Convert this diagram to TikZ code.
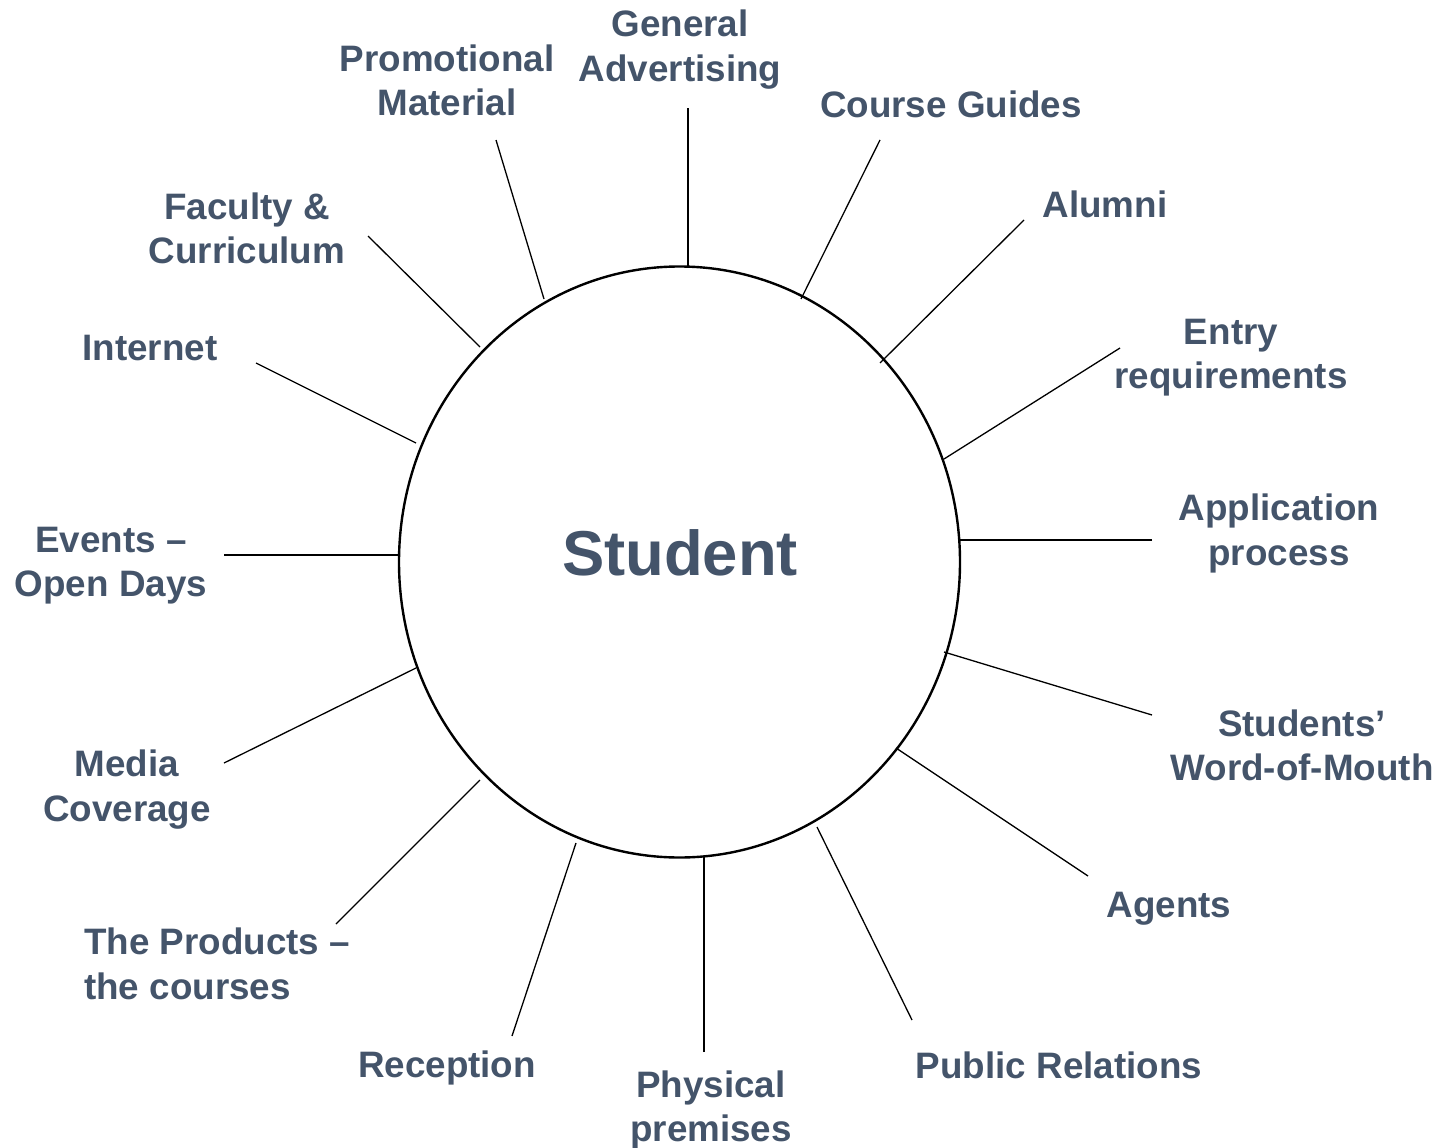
\documentclass[tikz,border=0pt]{standalone}
\usepackage{fontspec}
\setmainfont{Liberation Sans}
\usetikzlibrary{shapes.geometric}
\definecolor{txt}{HTML}{44546A}
\begin{document}
\begin{tikzpicture}[x=1pt,y=-1pt,
  lbl/.style={text=txt,font=\bfseries\fontsize{36.8}{44.5}\selectfont,align=center,inner sep=0pt},
  spoke/.style={draw=black,line width=1.3pt},
  hub/.style={draw=black,line width=2.4pt,ellipse,minimum width=561pt,minimum height=591pt,inner sep=0pt}]
\useasboundingbox (0,0) rectangle (1441,1148);
\node[hub] (S) at (679.5,562) {};
\node[text=txt,font=\bfseries\fontsize{63.4}{70}\selectfont,inner sep=0pt] (st) at (680,553) {Student};
% labels
\node[lbl] (l1) at (680,49.5) {General\\Advertising};
\node[lbl] (l2) at (951,104) {Course Guides};
\node[lbl] (l3) at (1105,204) {Alumni};
\node[lbl] (l4) at (1231,357.5) {Entry\\requirements};
\node[lbl] (l5) at (1279,533.5) {Application\\process};
\node[lbl] (l6) at (1302,745.5) {Students’\\Word-of-Mouth};
\node[lbl] (l7) at (1169,909) {Agents};
\node[lbl] (l8) at (1059,1065) {Public Relations};
\node[lbl] (l9) at (711,1110) {Physical\\premises};
\node[lbl] (l10) at (447,1068) {Reception};
\node[lbl,align=left,anchor=west] (l11) at (84,964) {The Products –\\the courses};
\node[lbl] (l12) at (127,789.5) {Media\\Coverage};
\node[lbl] (l13) at (111,565.5) {Events –\\Open Days};
\node[lbl] (l14) at (150,348) {Internet};
\node[lbl] (l15) at (247,228.5) {Faculty \&\\Curriculum};
\node[lbl] (l16) at (447,80.5) {Promotional\\Material};
% spoke endpoints
\coordinate (a1) at (688,108);  \coordinate (b1) at (688,267);
\coordinate (a2) at (880,140);  \coordinate (b2) at (801,299);
\coordinate (a3) at (1024,220); \coordinate (b3) at (880,363);
\coordinate (a4) at (1120,348); \coordinate (b4) at (944,459);
\coordinate (a5) at (1152,540); \coordinate (b5) at (960,540);
\coordinate (a6) at (1152,715); \coordinate (b6) at (944,652);
\coordinate (a7) at (1088,876); \coordinate (b7) at (896,748);
\coordinate (a8) at (912,1020); \coordinate (b8) at (817,827);
\coordinate (a9) at (704,1052); \coordinate (b9) at (704,857);
\coordinate (a10) at (512,1036); \coordinate (b10) at (576,843);
\coordinate (a11) at (336,924); \coordinate (b11) at (480,780);
\coordinate (a12) at (224,763); \coordinate (b12) at (416,668);
\coordinate (a13) at (224,555); \coordinate (b13) at (399,555);
\coordinate (a14) at (256,363); \coordinate (b14) at (416,443);
\coordinate (a15) at (368,236); \coordinate (b15) at (480,347);
\coordinate (a16) at (496,140); \coordinate (b16) at (544,299);
\foreach \i in {1,...,16} {\draw[spoke] (a\i) -- (b\i);}
\end{tikzpicture}
\end{document}
